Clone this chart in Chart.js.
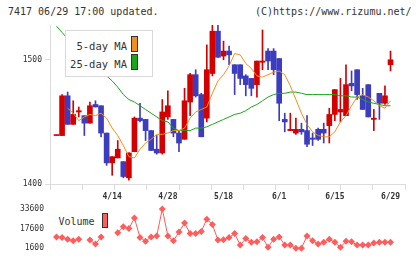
<!DOCTYPE html>
<html>
<head>
<meta charset="utf-8">
<script src="https://cdn.jsdelivr.net/npm/chart.js@4.4.1/dist/chart.umd.min.js"></script>
<style>
  html, body { margin: 0; padding: 0; background: #fff; }
  #wrap { position: relative; width: 420px; height: 259px; overflow: hidden;
          font-family: "DejaVu Sans Mono", monospace; color: #333; }
  .hdr { position: absolute; top: 6px; font-size: 10px; line-height: 12px; white-space: pre; }
  #main { position: absolute; left: 0; top: 0; }
  #vol { position: absolute; left: 0; top: 190px; }
  .lg { position: absolute; background: #fff; }
  .lg span { position: absolute; white-space: pre; }
  .sw { position: absolute; box-sizing: border-box; border: 1px solid #333; }
</style>
</head>
<body>
<div id="wrap">
  <div class="hdr" style="left:8px">7417 06/29 17:00 updated.</div>
  <div class="hdr" style="left:255px">(C)https://www.rizumu.net/</div>
  <canvas id="main" width="420" height="194"></canvas>
  <canvas id="vol" width="420" height="69"></canvas>

  <div class="lg" style="left:65px;top:30px;width:86px;height:45px;border:1px solid #d9d9d9;">
    <span style="right:25px;top:9px;font-size:10.5px;line-height:12px;">5-day MA</span>
    <span style="right:25px;top:27px;font-size:10.5px;line-height:12px;">25-day MA</span>
    <div class="sw" style="left:65px;top:5px;width:7px;height:16px;background:#f0901c;"></div>
    <div class="sw" style="left:65px;top:23px;width:7px;height:16px;background:#1ba51b;"></div>
  </div>

  <div class="lg" style="left:57px;top:211px;width:53px;height:20px;">
    <span style="left:1.5px;top:5px;font-size:10px;line-height:12px;">Volume</span>
    <div class="sw" style="left:44.5px;top:2px;width:6px;height:15px;background:#ff5c5c;"></div>
  </div>
</div>
<script>
// trading days 2020/3/31 - 6/29
const dates = [
  '3/31', '4/1', '4/2', '4/3', '4/6', '4/7', '4/8', '4/9', '4/10', '4/13',
  '4/14', '4/15', '4/16', '4/17', '4/20', '4/21', '4/22', '4/23', '4/24', '4/27',
  '4/28', '4/30', '5/1', '5/7', '5/8', '5/11', '5/12', '5/13', '5/14', '5/15',
  '5/18', '5/19', '5/20', '5/21', '5/22', '5/25', '5/26', '5/27', '5/28', '5/29',
  '6/1', '6/2', '6/3', '6/4', '6/5', '6/8', '6/9', '6/10', '6/11', '6/12',
  '6/15', '6/16', '6/17', '6/18', '6/19', '6/22', '6/23', '6/24', '6/25', '6/26',
  '6/29'
];

const open = [
  1439, 1439, 1471, 1448, 1458, 1455, 1449, 1464, 1463, 1441,
  1417, 1421, 1418, 1405, 1426, 1453, 1452, 1443, 1428, 1425,
  1454, 1452, 1441, 1436, 1466, 1488, 1472, 1453, 1489, 1523,
  1503, 1507, 1496, 1496, 1487, 1485, 1480, 1498, 1507, 1507,
  1501, 1452, 1443, 1441, 1444, 1443, 1437, 1444, 1444, 1447,
  1456, 1458, 1455, 1481, 1492, 1471, 1480, 1452, 1473, 1465,
  1496
];
const high = [
  1439, 1472, 1474, 1467, 1462, 1455, 1466, 1467, 1463, 1441,
  1422, 1435, 1418, 1425, 1454, 1465, 1452, 1443, 1439, 1468,
  1475, 1452, 1443, 1477, 1489, 1492, 1473, 1512, 1528, 1528,
  1515, 1511, 1496, 1496, 1488, 1485, 1499, 1524, 1509, 1509,
  1501, 1457, 1457, 1453, 1449, 1455, 1441, 1445, 1449, 1461,
  1476, 1485, 1496, 1491, 1492, 1477, 1480, 1460, 1473, 1479,
  1507
];
const low = [
  1439, 1439, 1448, 1448, 1454, 1439, 1449, 1462, 1438, 1415,
  1407, 1421, 1405, 1403, 1426, 1450, 1435, 1427, 1424, 1424,
  1452, 1438, 1426, 1436, 1455, 1470, 1438, 1450, 1487, 1502,
  1500, 1496, 1472, 1480, 1471, 1471, 1470, 1492, 1492, 1488,
  1451, 1442, 1443, 1440, 1440, 1430, 1431, 1435, 1433, 1433,
  1451, 1450, 1455, 1475, 1468, 1460, 1454, 1443, 1452, 1464,
  1491
];
const close = [
  1439, 1471, 1448, 1456, 1459, 1449, 1463, 1462, 1441, 1417,
  1422, 1428, 1406, 1425, 1453, 1451, 1443, 1427, 1425, 1458,
  1463, 1441, 1433, 1467, 1488, 1471, 1438, 1492, 1523, 1502,
  1507, 1504, 1489, 1485, 1480, 1477, 1499, 1499, 1499, 1492,
  1465, 1450, 1444, 1444, 1442, 1432, 1436, 1436, 1441, 1456,
  1476, 1460, 1480, 1479, 1472, 1460, 1454, 1453, 1465, 1471,
  1500
];

const ma5 = [
  null, null, 1461, 1457, 1451, 1454, 1456, 1455, 1457, 1453,
  1445, 1439, 1431, 1422, 1421, 1428, 1433, 1436, 1440, 1440,
  1441, 1443, 1443, 1445, 1453, 1458, 1460, 1462, 1473, 1483,
  1488, 1495, 1505, 1504, 1497, 1493, 1487, 1486, 1488, 1490,
  1491, 1488, 1479, 1468, 1457, 1448, 1442, 1439, 1438, 1438,
  1442, 1450, 1455, 1463, 1470, 1472, 1470, 1467, 1463, 1461,
  1467
];
const ma25 = [
  1527, 1522, 1517, 1513, 1508, 1503, 1498, 1494, 1490, 1487,
  1483, 1478, 1472, 1468, 1466, 1463, 1460, 1457, 1454, 1451,
  1450, 1445, 1443, 1443, 1443, 1445, 1445, 1446, 1448, 1450,
  1452, 1454, 1456, 1457, 1459, 1462, 1464, 1467, 1470, 1472,
  1473, 1473, 1474, 1474, 1473, 1472, 1472, 1472, 1472, 1472,
  1472, 1471, 1471, 1470, 1470, 1468, 1466, 1465, 1464, 1463,
  1463
];

const volume = [
  10800, 10300, 9000, 7600, 9000, null, 8200, 5000, 10800, null,
  null, 14300, 19100, 17700, 26200, 10300, 7200, 10800, 11600, 33600,
  11600, 7600, 14800, 22200, 13500, 13500, 15300, 25300, 20900, 8200,
  8400, 10300, 13500, 4200, 9500, 6400, 6800, 10300, 2400, 9000,
  10800, 4200, 4200, 1600, 1600, 11600, 7600, 5000, 6400, 9000,
  6400, 2400, 7200, 6800, 4200, 4200, 4200, 5800, 6400, 6400,
  6400
];

const priceTicks = [1400, 1500];
const volumeTicks = [1600, 17600, 33600];
const dateTicks = [10, 20, 30, 40, 50, 60];

const UP = '#d40000';
const DOWN = '#3c3cbe';
const X_MIN = -1.17, X_MAX = 62.6;
const FONT = { family: '"DejaVu Sans Mono", monospace', size: 8 };

const candleColor = close.map((c, i) => (c >= open[i] ? UP : DOWN));
const pts = (arr) => arr.map((v, i) => ({ x: i, y: v }));
const plain = (v) => String(v); // no thousands separator

new Chart(document.getElementById('main'), {
  type: 'bar',
  data: {
    datasets: [
      {
        type: 'line', label: '5-day MA', data: pts(ma5), xAxisID: 'x',
        borderColor: '#f0901c', borderWidth: 1, pointRadius: 0, order: 0,
      },
      {
        type: 'line', label: '25-day MA', data: pts(ma25), xAxisID: 'x',
        borderColor: '#1ba51b', borderWidth: 1, pointRadius: 0, order: 0,
      },
      {
        label: 'body', xAxisID: 'x',
        data: open.map((o, i) => ({ x: i, y: [o, close[i]] })),
        backgroundColor: candleColor, barThickness: 5, minBarLength: 1,
        grouped: false, order: 1,
      },
      {
        label: 'wick', xAxisID: 'x',
        data: low.map((l, i) => ({ x: i, y: [l, high[i]] })),
        backgroundColor: candleColor, barThickness: 1,
        grouped: false, order: 2,
      },
    ],
  },
  options: {
    responsive: false,
    animation: false,
    events: [],
    layout: { padding: { top: 25, right: 15, left: 0, bottom: 0 } },
    plugins: { legend: { display: false }, tooltip: { enabled: false } },
    scales: {
      x: { type: 'linear', min: X_MIN, max: X_MAX, offset: false, display: false },
      xt: {
        type: 'linear', position: 'bottom', min: 0, max: 11, offset: false,
        ticks: { display: false, stepSize: 1 },
        grid: { color: '#dcdcdc', drawOnChartArea: false, tickLength: 6, offset: false },
        border: { color: '#dcdcdc' },
        afterFit: (s) => { s.height = 10; },
      },
      y: {
        min: 1400, max: 1528,
        afterBuildTicks: (s) => { s.ticks = priceTicks.map((v) => ({ value: v })); },
        ticks: { font: FONT, color: '#333', padding: 3, callback: plain },
        grid: { color: '#dcdcdc', drawOnChartArea: false, tickLength: 5 },
        border: { color: '#dcdcdc' },
        afterFit: (s) => { s.width = 50; },
      },
    },
  },
});

new Chart(document.getElementById('vol'), {
  type: 'line',
  data: {
    datasets: [{
      label: 'Volume',
      data: pts(volume),
      borderColor: '#ff5c5c',
      backgroundColor: '#ff5c5c',
      borderWidth: 1,
      pointStyle: 'rectRot',
      pointRadius: 3.5,
      pointBorderWidth: 0,
      spanGaps: false,
      clip: false,
    }],
  },
  options: {
    responsive: false,
    animation: false,
    events: [],
    layout: { padding: { top: 0, right: 15, left: 0, bottom: 10 } },
    plugins: { legend: { display: false }, tooltip: { enabled: false } },
    scales: {
      x: {
        type: 'linear', position: 'top', min: X_MIN, max: X_MAX, offset: false,
        afterBuildTicks: (s) => { s.ticks = dateTicks.map((v) => ({ value: v })); },
        ticks: {
          callback: (v) => dates[v], font: { ...FONT, weight: 'bold' },
          color: '#333', padding: 7, maxRotation: 0, autoSkip: false,
        },
        grid: { display: false, drawTicks: false },
        border: { display: false },
        afterFit: (s) => { s.height = 19; },
      },
      y: {
        min: 1600, max: 33600,
        afterBuildTicks: (s) => { s.ticks = volumeTicks.map((v) => ({ value: v })); },
        ticks: { font: FONT, color: '#333', padding: 6, callback: plain },
        grid: { display: false, drawTicks: false },
        border: { display: false },
        afterFit: (s) => { s.width = 50; },
      },
    },
  },
});
</script>
</body>
</html>
